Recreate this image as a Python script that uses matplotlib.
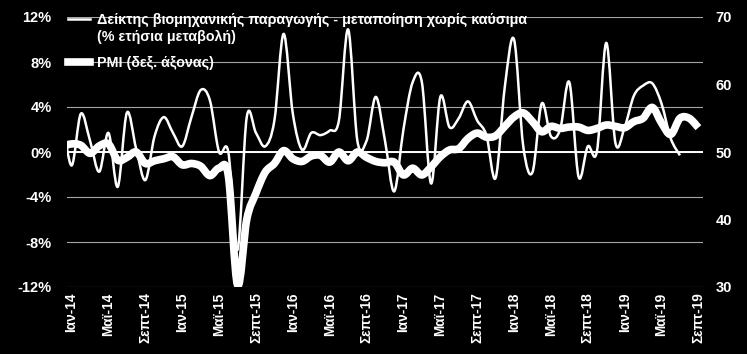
import matplotlib

matplotlib.use("Agg")
import matplotlib.pyplot as plt
from matplotlib.lines import Line2D
from matplotlib.patches import PathPatch
from matplotlib.path import Path

plt.rcParams["font.family"] = ["Liberation Sans", "DejaVu Sans"]
plt.rcParams["font.weight"] = "bold"

# month index 0 = Ιαν-14; index -1 (Δεκ-13) is only partly visible at the left edge
START_INDEX = -1
MONTH_NAMES = ["Ιαν", "Φεβ", "Μαρ", "Απρ", "Μαϊ", "Ιουν",
               "Ιουλ", "Αυγ", "Σεπτ", "Οκτ", "Νοε", "Δεκ"]
YEARS = ["14", "15", "16", "17", "18", "19"]
N_MONTHS = 69  # Ιαν-14 .. Σεπτ-19

# industrial production, manufacturing ex fuels (% y/y), Δεκ-13 .. Ιουλ-19
ip_yoy = [
    3.0,
    -1.2, 3.4, 1.0, -1.75, 1.7, -3.1, 3.5, 0.3, -2.5, 1.4, 3.1, 1.7,
    0.5, 3.1, 5.5, 4.6, 0.0, 0.0, -8.7, 3.1, 1.7, 0.5, 2.8, 10.5,
    3.4, 0.2, 1.7, 1.5, 1.9, 2.8, 10.9, 1.0, 1.0, 4.9, 1.0, -3.5,
    2.0, 6.2, 6.2, -2.8, 4.9, 2.2, 3.0, 4.5, 2.8, 1.5, -2.3, 5.8,
    10.0, 0.5, -1.8, 4.3, 1.4, 2.0, 6.2, -2.2, 0.5, 0.1, 9.7, 0.8,
    2.2, 5.0, 5.9, 6.1, 4.3, 1.2, -0.3,
]

# PMI manufacturing (right axis), Δεκ-13 .. Σεπτ-19
pmi = [
    50.8,
    51.2, 51.0, 49.8, 50.9, 51.2, 48.8, 49.2, 50.0, 48.3, 48.7, 49.0, 49.3,
    48.1, 48.3, 47.9, 46.5, 47.6, 46.5, 30.3, 40.0, 43.9, 47.0, 48.3, 50.2,
    49.0, 48.6, 49.4, 49.5, 48.5, 50.0, 48.7, 50.0, 49.2, 48.6, 48.4, 48.5,
    46.6, 47.6, 46.6, 47.8, 49.3, 50.3, 50.5, 52.0, 52.8, 52.2, 52.4, 53.8,
    55.2, 55.8, 54.5, 53.0, 53.8, 53.5, 53.7, 53.7, 53.2, 53.5, 54.0, 53.8,
    53.6, 54.5, 55.0, 56.6, 54.3, 52.6, 55.0, 55.0, 53.6,
]

LABEL_IP = "Δείκτης βιομηχανικής παραγωγής - μεταποίηση χωρίς καύσιμα"
LABEL_IP_2 = "(% ετήσια μεταβολή)"
LABEL_PMI = "PMI (δεξ. άξονας)"

left_ticks = [-12, -8, -4, 0, 4, 8, 12]
right_ticks = [30, 40, 50, 60, 70]


def smooth_path(xs, ys):
    """Excel-style smoothed line as cubic Bezier segments in data coordinates."""
    n = len(xs)
    verts = [(xs[0], ys[0])]
    codes = [Path.MOVETO]
    for k in range(n - 1):
        xp, yp = (xs[k - 1], ys[k - 1]) if k > 0 else (xs[k], ys[k])
        xn, yn = (xs[k + 2], ys[k + 2]) if k + 2 < n else (xs[k + 1], ys[k + 1])
        c1 = (xs[k] + (xs[k + 1] - xp) / 6, ys[k] + (ys[k + 1] - yp) / 6)
        c2 = (xs[k + 1] - (xn - xs[k]) / 6, ys[k + 1] - (yn - ys[k]) / 6)
        verts += [c1, c2, (xs[k + 1], ys[k + 1])]
        codes += [Path.CURVE4] * 3
    return Path(verts, codes)


month_labels = [f"{m}-{y}" for y in YEARS for m in MONTH_NAMES][:N_MONTHS]
tick_pos = list(range(0, N_MONTHS, 4))
tick_lab = [month_labels[i] for i in tick_pos]

x_ip = list(range(START_INDEX, START_INDEX + len(ip_yoy)))
x_pmi = list(range(START_INDEX, START_INDEX + len(pmi)))

fig = plt.figure(figsize=(7.47, 3.54), dpi=100, facecolor="black")
ax = fig.add_axes([67 / 747, 67 / 354, 636 / 747, 270 / 354])
ax.set_facecolor("black")
ax2 = ax.twinx()
ax2.set_facecolor("none")

ax.set_xlim(-0.5, N_MONTHS - 0.5)
ax.set_ylim(-12, 12)
ax2.set_ylim(30, 70)

ax.set_yticks(left_ticks)
ax.set_yticklabels([f"{v}%" for v in left_ticks])
ax2.set_yticks(right_ticks)
ax.set_xticks(tick_pos)
ax.set_xticklabels(tick_lab, rotation=90)

for a in (ax, ax2):
    for s in a.spines.values():
        s.set_visible(False)
ax.tick_params(axis="y", length=0, pad=11, colors="white", labelsize=10.5)
ax2.tick_params(axis="y", length=0, pad=9, colors="white", labelsize=10.5)
ax.tick_params(axis="x", length=0, pad=4, colors="white", labelsize=9.8)

ax.grid(axis="y", color="#a6a6a6", linewidth=0.8)
ax.set_axisbelow(True)
ax.axhline(0, color="white", linewidth=1.4, zorder=1.5)

ax2.add_patch(PathPatch(smooth_path(x_pmi, pmi), fill=False, edgecolor="white",
                        linewidth=5.5, joinstyle="round", capstyle="butt"))
ax.add_patch(PathPatch(smooth_path(x_ip, ip_yoy), fill=False, edgecolor="white",
                       linewidth=1.8, joinstyle="round", capstyle="butt", zorder=3))

h_ip = Line2D([], [], color="white", linewidth=1.8)
h_blank = Line2D([], [], color="none")
h_pmi = Line2D([], [], color="white", linewidth=5.5)

leg1 = ax2.legend([h_ip, h_blank], [LABEL_IP, LABEL_IP_2], loc="upper left",
                  bbox_to_anchor=(0.002, 1.015), frameon=False, fontsize=10.3,
                  labelcolor="white", handlelength=1.5, handletextpad=0.5,
                  labelspacing=0.2, borderaxespad=0, borderpad=0)
ax2.add_artist(leg1)
ax2.legend([h_pmi], [LABEL_PMI], loc="upper left", bbox_to_anchor=(0.002, 0.855),
           frameon=False, fontsize=10.3, labelcolor="white", handlelength=1.5,
           handletextpad=0.5, borderaxespad=0, borderpad=0)

fig.savefig("out.png", dpi=100, facecolor="black")
